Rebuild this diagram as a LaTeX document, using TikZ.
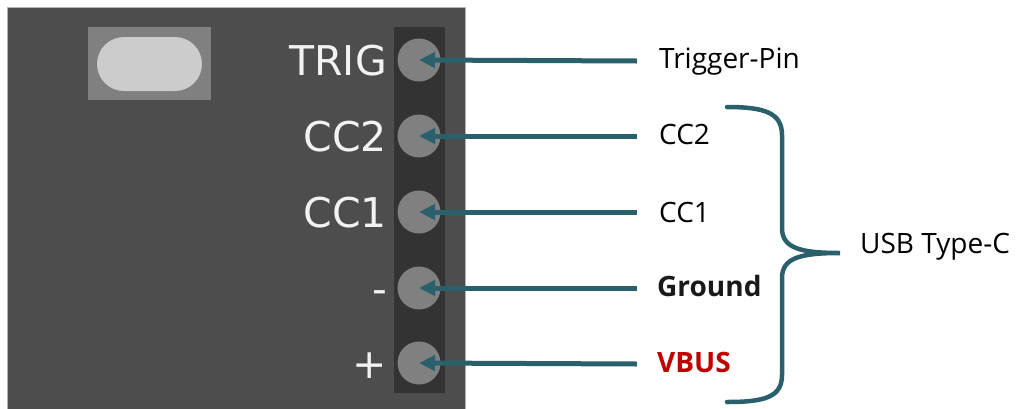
\documentclass[tikz,border=0pt]{standalone}
\usepackage{fontspec}
\setmainfont{Open Sans}
\newfontfamily\pinfont{DejaVu Sans}
\usetikzlibrary{arrows.meta}
\definecolor{board}{HTML}{4D4D4D}
\definecolor{boardedge}{HTML}{B4B4B4}
\definecolor{strip}{HTML}{333333}
\definecolor{pingray}{HTML}{808080}
\definecolor{btnlight}{HTML}{CCCCCC}
\definecolor{teal}{HTML}{2A5F6C}
\definecolor{vbusred}{HTML}{C00000}
\definecolor{silk}{HTML}{F2F2F2}
\tikzset{
  pin/.style={circle, fill=pingray, minimum size=43pt, inner sep=0pt},
  silklabel/.style={anchor=base east, inner sep=0pt, text=silk, font=\pinfont\fontsize{41}{41}\selectfont},
  desc/.style={anchor=base west, inner sep=0pt, text=black, font=\fontsize{28}{28}\selectfont},
  descbold/.style={desc, text=black!90, font=\bfseries\fontsize{28}{28}\selectfont},
  conn/.style={draw=teal, line width=5pt, -{Triangle[length=16pt,width=15pt]}},
  bracestyle/.style={draw=teal, line width=4.5pt, line cap=round}
}
\begin{document}
\begin{tikzpicture}[x=1pt,y=-1pt]
\useasboundingbox (0,0) rectangle (1021,408);
% board
\fill[board] (7,7) rectangle (465,420);
\draw[boardedge, line width=1pt] (7,420) -- (7,7) -- (465,7) -- (465,420);
% button
\fill[pingray] (88,27) rectangle (211,100);
\fill[btnlight, rounded corners=27pt] (97,37) rectangle (202,91);
% pin strip
\fill[strip] (394,27) rectangle (445,393);
% pins
\node[pin] (pT) at (419,60) {};
\node[pin] (p2) at (419,136) {};
\node[pin] (p1) at (419,212) {};
\node[pin] (pG) at (419,288) {};
\node[pin] (pV) at (419,363) {};
% silkscreen labels
\node[silklabel] (sT) at (387,75) {TRIG};
\node[silklabel] (s2) at (387,151) {CC2};
\node[silklabel] (s1) at (387,227) {CC1};
\node[silklabel] (sG) at (387,303) {-};
\node[silklabel] (sV) at (387,378) {+};
% descriptions
\node[desc] (dT) at (659,68) {Trigger-Pin};
\node[desc] (d2) at (659,144) {CC2};
\node[desc] (d1) at (659,222) {CC1};
\node[descbold] (dG) at (657,296) {Ground};
\node[descbold, text=vbusred] (dV) at (657,372) {VBUS};
\node[desc] (usb) at (860,253) {USB Type-C};
% arrow start points
\coordinate (aT) at (637,61);
\coordinate (a2) at (637,136);
\coordinate (a1) at (637,212);
\coordinate (aG) at (637,288);
\coordinate (aV) at (637,364);
\draw[conn] (aT) -- (pT.center);
\draw[conn] (a2) -- (p2.center);
\draw[conn] (a1) -- (p1.center);
\draw[conn] (aG) -- (pG.center);
\draw[conn] (aV) -- (pV.center);
% brace
\coordinate (btip) at (840,253);
\draw[bracestyle] (727,107) .. controls (765,107) and (782,113) .. (782,135)
  -- (782,228) .. controls (782,248) and (800,253) .. (btip)
  .. controls (800,253) and (782,258) .. (782,278)
  -- (782,375) .. controls (782,397) and (765,402) .. (727,402);
\end{tikzpicture}
\end{document}
